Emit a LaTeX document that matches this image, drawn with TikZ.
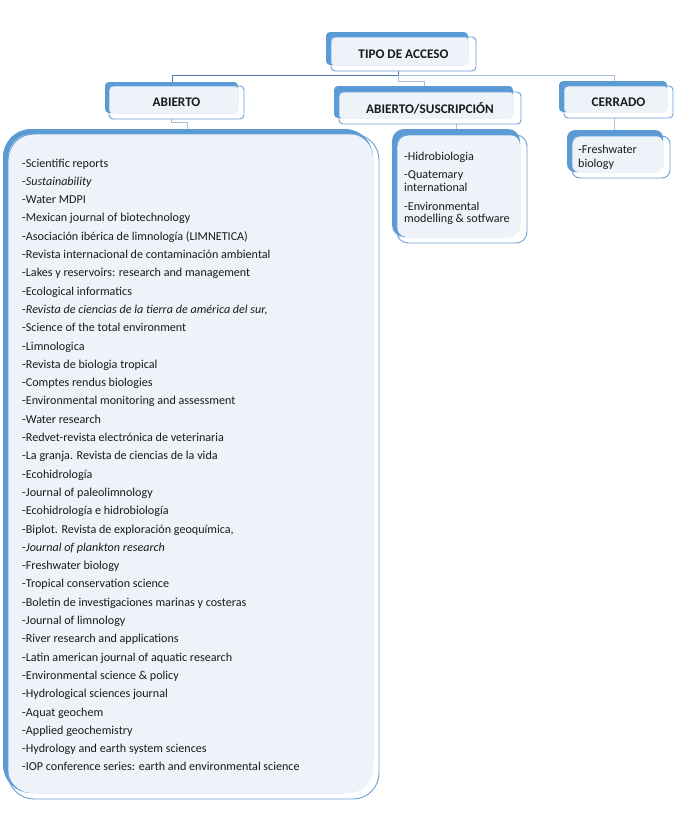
\documentclass[tikz,border=0pt]{standalone}
\usepackage{fontspec}
\setmainfont{Carlito}
\definecolor{bfill}{HTML}{5B9BD5}
\definecolor{lfill}{HTML}{EEF3FA}
\definecolor{bline}{HTML}{6A9FD6}
\definecolor{cdark}{HTML}{4A7BB0}
\definecolor{clight}{HTML}{A5BFDD}
\definecolor{txt}{HTML}{1A1A1A}
\pgfdeclarelayer{paper}
\pgfdeclarelayer{bg}
\pgfsetlayers{paper,bg,main}
\begin{document}
\begin{tikzpicture}[x=1pt,y=-1pt,
  back/.style={fill=bfill},
  innerfill/.style={fill=lfill},
  frontbox/.style={draw=bline, line width=0.9pt, shape=rectangle, inner sep=0pt, text=txt,
    font=\bfseries\fontsize{13.2}{15}\selectfont},
  listbox/.style={draw=bline, line width=0.9pt, shape=rectangle, inner sep=0pt},
  lst/.style={inner sep=0pt, text=txt, font=\fontsize{12.1}{14}\selectfont},
  cdk/.style={draw=cdark, line width=1pt},
  clt/.style={draw=clight, line width=1pt}]
\useasboundingbox (0,0) rectangle (677,833);
\begin{pgfonlayer}{paper}
\fill[white] (0,0) rectangle (677,833);
\end{pgfonlayer}

% ---- TIPO DE ACCESO
\fill[back, rounded corners=4pt] (326,32) rectangle (468,65);
\fill[innerfill, rounded corners=3pt] (331,37) rectangle (468,65);
\node[frontbox, rounded corners=4pt, minimum width=145pt, minimum height=34pt] (tipo) at (403.5,54) {TIPO DE ACCESO};

% ---- ABIERTO
\fill[back, rounded corners=4pt] (105,82) rectangle (238,113);
\fill[innerfill, rounded corners=3pt] (109,86) rectangle (238,113);
\node[frontbox, rounded corners=4pt, minimum width=135pt, minimum height=33pt] (abierto) at (176.5,102.5) {ABIERTO};

% ---- ABIERTO/SUSCRIPCION
\fill[back, rounded corners=4pt] (334,86) rectangle (513,118);
\fill[innerfill, rounded corners=3pt] (339,92) rectangle (513,118);
\node[frontbox, rounded corners=4pt, minimum width=182pt, minimum height=32pt] (susc) at (430,108) {ABIERTO/SUSCRIPCIÓN};

% ---- CERRADO
\fill[back, rounded corners=4pt] (559,81) rectangle (667,112);
\fill[innerfill, rounded corners=3pt] (564,86) rectangle (667,112);
\node[frontbox, rounded corners=4pt, minimum width=109pt, minimum height=32pt] (cerrado) at (618.5,102) {CERRADO};

% ---- big list box
\fill[back, rounded corners=28pt] (3,129) rectangle (373,793);
\fill[innerfill, rounded corners=24pt] (8,134) rectangle (373,793);
\node[listbox, rounded corners=26pt, minimum width=371pt, minimum height=665pt] (big) at (193.5,466.5) {};

% ---- side list box
\fill[back, rounded corners=12pt] (392,129) rectangle (520,237);
\fill[innerfill, rounded corners=10pt] (397,135) rectangle (520,237);
\node[listbox, rounded corners=11pt, minimum width=130pt, minimum height=108pt] (side) at (462,189) {};

% ---- freshwater box
\fill[back, rounded corners=8pt] (567,130) rectangle (663,172);
\fill[innerfill, rounded corners=7pt] (572,136) rectangle (663,172);
\node[listbox, rounded corners=8pt, minimum width=98pt, minimum height=42pt] (fresh) at (621,157) {};

% ---- connectors
\coordinate (j0) at (398,75);
\coordinate (ja) at (172,75);
\coordinate (jc) at (614,75);
\coordinate (jm1) at (398,81);
\coordinate (jm2) at (424,81);
\coordinate (jb0) at (171,110);
\coordinate (jb1) at (171,122);
\coordinate (jb2) at (187,122);
\coordinate (js) at (456,120);
\coordinate (jf) at (614,120);
\begin{pgfonlayer}{bg}
\draw[cdk] (tipo.south -| j0) -- (j0) -- (ja) -- (ja |- abierto.north);
\draw[clt] (j0) -- (jc) -- (jc |- cerrado.north);
\draw[clt] (j0) -- (jm1) -- (jm2) -- (jm2 |- susc.north);
\draw[clt] (jb0 |- abierto.south) -- (jb1) -- (jb2) -- (jb2 |- big.north);
\draw[clt] (js |- susc.south) -- (js |- side.north);
\draw[clt] (jf |- cerrado.south) -- (jf |- fresh.north);
\end{pgfonlayer}

% ---- big list text
\foreach \t [count=\i from 0] in {
 {-Scientific reports},
 {-\textit{Sustainability}},
 {-Water MDPI},
 {-Mexican journal of biotechnology},
 {-Asociación ibérica de limnología (LIMNETICA)},
 {-Revista internacional de contaminación ambiental},
 {-Lakes y reservoirs: research and management},
 {-Ecological informatics},
 {-\textit{Revista de ciencias de la tierra de américa del sur,}},
 {-Science of the total environment},
 {-Limnologica},
 {-Revista de biologia tropical},
 {-Comptes rendus biologies},
 {-Environmental monitoring and assessment},
 {-Water research},
 {-Redvet-revista electrónica de veterinaria},
 {-La granja. Revista de ciencias de la vida},
 {-Ecohidrología},
 {-Journal of paleolimnology},
 {-Ecohidrología e hidrobiología},
 {-Biplot. Revista de exploración geoquímica,},
 {-\textit{Journal of plankton research}},
 {-Freshwater biology},
 {-Tropical conservation science},
 {-Boletin de investigaciones marinas y costeras},
 {-Journal of limnology},
 {-River research and applications},
 {-Latin american journal of aquatic research},
 {-Environmental science \& policy},
 {-Hydrological sciences journal},
 {-Aquat geochem},
 {-Applied geochemistry},
 {-Hydrology and earth system sciences},
 {-IOP conference series: earth and environmental science}}
 \node[lst, anchor=base west] (L\i) at (22,{167+18.3*\i}) {\t};

% ---- side list text
\node[lst, anchor=base west] (s1) at (404,160) {-Hidrobiologia};
\node[lst, anchor=base west] (s2) at (404,178) {-Quatemary};
\node[lst, anchor=base west] (s3) at (404,191) {international};
\node[lst, anchor=base west] (s4) at (404,210) {-Environmental};
\node[lst, anchor=base west] (s5) at (404,222) {modelling \& sotfware};

% ---- freshwater text
\node[lst, anchor=base west] (f1) at (578,153) {-Freshwater};
\node[lst, anchor=base west] (f2) at (578,167) {biology};
\end{tikzpicture}
\end{document}
